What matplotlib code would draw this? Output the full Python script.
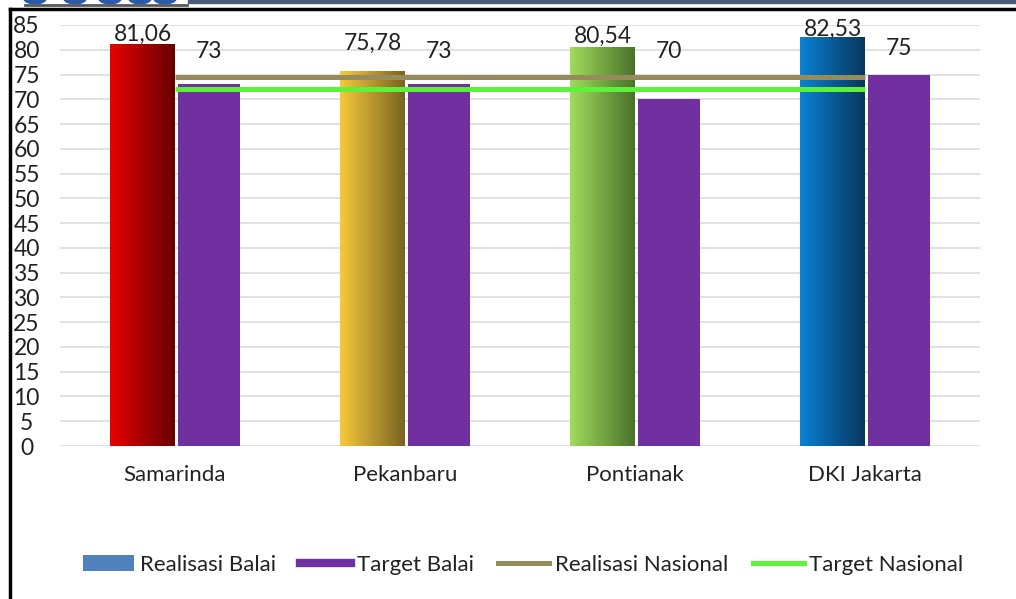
import numpy as np
import matplotlib
matplotlib.use("Agg")
import matplotlib.pyplot as plt
from matplotlib.colors import LinearSegmentedColormap
from matplotlib.patches import Patch, Rectangle, Ellipse
from matplotlib.lines import Line2D

plt.rcParams['font.family'] = ['Lato', 'DejaVu Sans']

# data
kota = ['Samarinda', 'Pekanbaru', 'Pontianak', 'DKI Jakarta']
realisasi_balai = [81.06, 75.78, 80.54, 82.53]
target_balai = [73, 73, 70, 75]
realisasi_nasional = [74.5, 74.5, 74.5, 74.5]
target_nasional = [72, 72, 72, 72]

# gradient (left -> right) for each realisasi bar
grad_colors = [('#e80000', '#660000'),
               ('#f7c93c', '#7a6322'),
               ('#a0dc5c', '#4a7229'),
               ('#0a82d6', '#08365c')]

fig = plt.figure(figsize=(10.16, 5.99), dpi=100)
ax = fig.add_axes([0.059, 0.2554, 0.9055, 0.7029])

x = np.arange(len(kota))
w_r = 0.282
w_t = 0.27
bars_r = ax.bar(x - w_r / 2, realisasi_balai, width=w_r, color='none', zorder=2)
bars_t = ax.bar(x + 0.013 + w_t / 2, target_balai, width=w_t, color='#7030a0', zorder=2)

grad = np.linspace(0, 1, 256).reshape(1, -1)
for bar, (c1, c2) in zip(bars_r, grad_colors):
    x0, y0 = bar.get_x(), bar.get_y()
    x1, y1 = x0 + bar.get_width(), y0 + bar.get_height()
    cmap = LinearSegmentedColormap.from_list('g', [c1, c2])
    im = ax.imshow(grad, extent=(x0, x1, y0, y1), aspect='auto', cmap=cmap,
                   zorder=2, interpolation='bilinear')
    im.set_clip_path(bar)

ax.plot(x, realisasi_nasional, color='#968b5a', lw=3.6, zorder=3, solid_capstyle='butt')
ax.plot(x, target_nasional, color='#5df23a', lw=3.6, zorder=3, solid_capstyle='butt')

# value labels
for xi, v in zip(x, realisasi_balai):
    ly = min(max(v + 2.1, 81.2), 84.2)
    ax.text(xi - w_r / 2, ly, '{:.2f}'.format(v).replace('.', ','), ha='center', va='center',
            fontsize=16.5, color='#222222', zorder=4)
for xi, v in zip(x, target_balai):
    ly = max(v + 5.2, 79.6)
    ax.text(xi + 0.013 + w_t / 2, ly, str(v), ha='center', va='center',
            fontsize=16.5, color='#222222', zorder=4)

ax.set_xlim(-0.5, 3.5)
ax.set_ylim(0, 85)
ax.set_yticks(range(0, 86, 5))
ax.set_xticks(x)
ax.set_xticklabels(kota)
ax.grid(axis='y', color='#d9d9d9', lw=1.1, zorder=0)
ax.set_axisbelow(True)
for s in ax.spines.values():
    s.set_visible(False)
ax.tick_params(axis='y', length=0, pad=24, labelsize=16.5, labelcolor='#222222')
ax.tick_params(axis='x', length=0, pad=14, labelsize=16, labelcolor='#222222')
for t in ax.get_yticklabels():
    t.set_horizontalalignment('center')

# legend
handles = [Patch(facecolor='#4f81bd', edgecolor='none'),
           Line2D([], [], color='#7030a0', lw=6),
           Line2D([], [], color='#968b5a', lw=3.6),
           Line2D([], [], color='#5df23a', lw=3.6)]
labels = ['Realisasi Balai', 'Target Balai', 'Realisasi Nasional', 'Target Nasional']
fig.legend(handles, labels, loc='center', bbox_to_anchor=(0.515, 0.057), ncol=4,
           frameon=False, fontsize=16, handlelength=2.3, handleheight=0.7,
           handletextpad=0.25, columnspacing=1.1, labelcolor='#222222')

# frame lines and header strip
fig.add_artist(Line2D([10 / 1016, 10 / 1016], [0, 1 - 9 / 599], color='black', lw=2.5,
                      transform=fig.transFigure))
fig.add_artist(Line2D([10 / 1016, 1], [1 - 9 / 599, 1 - 9 / 599], color='black', lw=2.5,
                      transform=fig.transFigure))
fig.add_artist(Rectangle((188 / 1016, 1 - 3 / 599), 1, 3 / 599, color='#4b5b77',
                         transform=fig.transFigure))
fig.add_artist(Line2D([25 / 1016, 187 / 1016], [1 - 5 / 599, 1 - 5 / 599], color='#5a5a5a',
                      lw=2, transform=fig.transFigure))
for cx in [35, 75, 110, 140, 165]:
    fig.add_artist(Ellipse((cx / 1016, 1.002), 22 / 1016, 10 / 599, color='#2a5aa8',
                           transform=fig.transFigure))

fig.savefig('out.png', dpi=100)
